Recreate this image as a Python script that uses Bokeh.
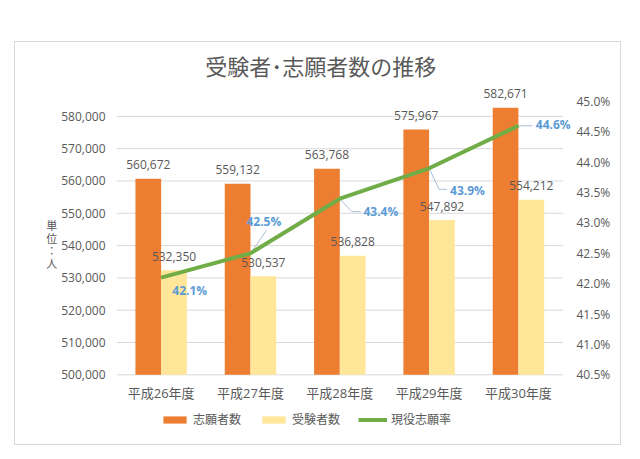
from bokeh.plotting import figure
from bokeh.models import (ColumnDataSource, Range1d, LinearAxis, FixedTicker,
                          NumeralTickFormatter, PrintfTickFormatter, Legend,
                          LegendItem)
from bokeh.core.properties import value
from bokeh.embed import file_html
from bokeh.resources import INLINE

# ---- data ----
title = "受験者･志願者数の推移"
years = ["平成26年度", "平成27年度", "平成28年度", "平成29年度", "平成30年度"]
applicants = [560672, 559132, 563768, 575967, 582671]   # 志願者数
examinees = [532350, 530537, 536828, 547892, 554212]    # 受験者数
rate = [42.1, 42.5, 43.4, 43.9, 44.6]                   # 現役志願率 (%)
left_ticks = [500000, 510000, 520000, 530000, 540000, 550000, 560000, 570000, 580000]
right_ticks = [40.5, 41.0, 41.5, 42.0, 42.5, 43.0, 43.5, 44.0, 44.5, 45.0]

# ---- layout (placement only, not data) ----
rate_label_dx = [0.32, 0.15, 0.46, 0.43, 0.39]
rate_label_dy = [-0.21, 0.52, -0.21, -0.37, 0.02]
leader_dx = [[0, 0], [0, 0.18], [0, 0.134, 0.235], [0, 0.112, 0.2], [0, 0.157]]
leader_dy = [[0, 0], [0, 0.38], [0, -0.214, -0.214], [0, -0.346, -0.346], [0, 0]]

FONT = "Open Sans, Noto Sans CJK JP"
GRAY = "#595959"
GRID = "#D9D9D9"
ORANGE = "#ED7D31"
YELLOW = "#FFE699"
GREEN = "#70AD47"
BLUE = "#5B9BD5"

W, H = 607, 404
PLOT_TOP_PX, PLOT_H_PX, CAT_PX = 59, 273.3, 89.25   # value area inside the canvas
Y0, Y1 = 500000, 584600
P0, P1 = 40.5, 45.0
below_px = H - PLOT_TOP_PX - PLOT_H_PX

ky = (Y1 - Y0) / PLOT_H_PX
kp = (P1 - P0) / PLOT_H_PX

xs = [i + 1 for i in range(len(years))]
bw = 0.288
x_lo, x_hi = 0.5, len(years) + 0.5
x_extra = 10.4 / CAT_PX

p = figure(width=W, height=H, output_backend="svg", toolbar_location=None,
           x_axis_location=None,
           x_range=Range1d(x_lo, x_hi + x_extra),
           y_range=Range1d(Y0 - below_px * ky, Y1 + PLOT_TOP_PX * ky),
           min_border_left=101, min_border_right=49, min_border_top=0, min_border_bottom=0)
p.styles = {"border": "1px solid #D9D9D9"}
p.margin = (41, 0, 0, 14)
p.outline_line_color = None
p.background_fill_color = "white"
p.border_fill_color = "white"
p.extra_y_ranges = {"pct": Range1d(P0 - below_px * kp, P1 + PLOT_TOP_PX * kp)}
p.xgrid.grid_line_color = None
p.ygrid.grid_line_color = None

src = ColumnDataSource(dict(
    xo=[x - bw / 2 for x in xs], xy=[x + bw / 2 for x in xs], x=xs, years=years,
    base=[Y0] * len(xs),
    app=applicants, exa=examinees, rate=rate,
    app_t=[f"{v:,}" for v in applicants], exa_t=[f"{v:,}" for v in examinees],
    rate_t=[f"{r:.1f}%" for r in rate],
    rx=[x + d for x, d in zip(xs, rate_label_dx)],
    ry=[r + d for r, d in zip(rate, rate_label_dy)],
    lx=[[x + d for d in dd] for x, dd in zip(xs, leader_dx)],
    ly=[[r + d for d in dd] for r, dd in zip(rate, leader_dy)],
))
grid_src = ColumnDataSource(dict(y=left_ticks, x0=[x_lo] * len(left_ticks),
                                 x1=[x_hi] * len(left_ticks)))

# gridlines and category axis line
p.segment(x0="x0", x1="x1", y0="y", y1="y", source=grid_src, line_color=GRID, line_width=1)

r_app = p.vbar(x="xo", top="app", bottom=Y0, width=bw, source=src, fill_color=ORANGE, line_color=None)
r_exa = p.vbar(x="xy", top="exa", bottom=Y0, width=bw, source=src, fill_color=YELLOW, line_color=None)

p.text(x="xo", y="app", text="app_t", source=src, text_align="center", text_baseline="middle",
       y_offset=-14, text_font=value(FONT), text_font_size="12px", text_color=GRAY)
p.text(x="xy", y="exa", text="exa_t", source=src, text_align="center", text_baseline="middle",
       y_offset=-14, text_font=value(FONT), text_font_size="12px", text_color=GRAY)

p.multi_line(xs="lx", ys="ly", source=src, y_range_name="pct", line_color="#A9BED6", line_width=1)
r_rate = p.line(x="x", y="rate", source=src, y_range_name="pct", line_color=GREEN, line_width=4)
p.text(x="rx", y="ry", text="rate_t", source=src, y_range_name="pct", text_align="center",
       text_baseline="middle", text_font=value(FONT), text_font_size="12px",
       text_font_style="bold", text_color=BLUE)

# category labels (x axis)
p.text(x="x", y="base", text="years", source=src, text_align="center", text_baseline="middle",
       y_offset=18, text_font=value(FONT), text_font_size="13px", text_color=GRAY)

# title
p.text(x=[(x_lo + x_hi) / 2], y=[P1], text=[title], y_range_name="pct", x_offset=-19,
       y_offset=-35.5, text_align="center", text_baseline="middle",
       text_font=value(FONT), text_font_size="22px", text_color=GRAY)

# left axis
p.yaxis.ticker = FixedTicker(ticks=left_ticks)
p.yaxis.bounds = (Y0, Y1 + 40 * ky)
p.yaxis.formatter = NumeralTickFormatter(format="0,0")
p.yaxis.axis_line_color = None
p.yaxis.major_tick_line_color = None
p.yaxis.minor_tick_line_color = None
p.yaxis.major_tick_out = 0
p.yaxis.major_tick_in = 0
p.yaxis.major_label_standoff = 11
p.yaxis.major_label_text_font = FONT
p.yaxis.major_label_text_font_size = "12px"
p.yaxis.major_label_text_color = GRAY
p.yaxis.axis_label = "単\n位\n：\n人"
p.yaxis.axis_label_orientation = "horizontal"
p.yaxis.axis_label_standoff = 1
p.yaxis.axis_label_text_font = FONT
p.yaxis.axis_label_text_font_size = "11px"
p.yaxis.axis_label_text_font_style = "normal"
p.yaxis.axis_label_text_color = GRAY
p.yaxis.axis_label_text_line_height = 0.85

# right axis
ax2 = LinearAxis(y_range_name="pct", ticker=FixedTicker(ticks=right_ticks), bounds=(P0, P1),
                 formatter=PrintfTickFormatter(format="%.1f%%"))
ax2.axis_line_color = None
ax2.major_tick_line_color = None
ax2.minor_tick_line_color = None
ax2.major_tick_out = 0
ax2.major_tick_in = 0
ax2.major_label_standoff = 3
ax2.major_label_text_font = FONT
ax2.major_label_text_font_size = "12px"
ax2.major_label_text_color = GRAY
p.add_layout(ax2, "right")

legend = Legend(items=[LegendItem(label="志願者数", renderers=[r_app]),
                       LegendItem(label="受験者数", renderers=[r_exa]),
                       LegendItem(label="現役志願率", renderers=[r_rate])],
                orientation="horizontal", location=(44, 18), padding=0, margin=0,
                spacing=18, glyph_width=29, glyph_height=9, label_height=14,
                label_standoff=4, label_text_font=FONT, label_text_font_size="12px",
                label_text_color=GRAY, border_line_color=None, background_fill_alpha=0)
p.add_layout(legend, "center")

open("out.html", "w").write(file_html(p, INLINE))
